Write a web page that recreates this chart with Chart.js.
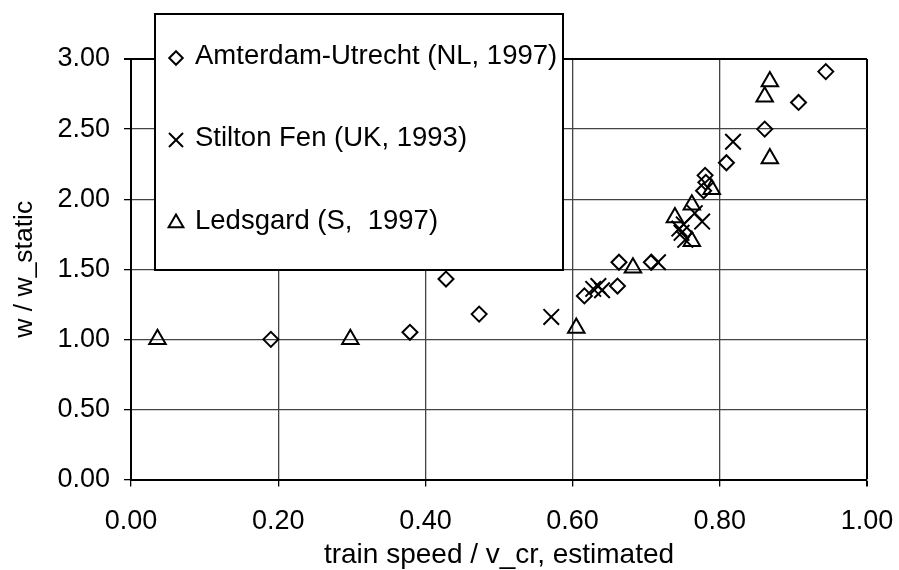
<!DOCTYPE html>
<html>
<head>
<meta charset="utf-8">
<script src="https://cdn.jsdelivr.net/npm/chart.js@4"></script>
<style>
  html, body { margin: 0; padding: 0; background: #fff; }
  #wrap { width: 899px; height: 570px; }
</style>
</head>
<body>
<div id="wrap"><canvas id="chart" width="899" height="570"></canvas></div>
<script>
// Amsterdam-Utrecht (diamonds)
const nlX = [0.19, 0.379, 0.428, 0.473, 0.616, 0.661, 0.663, 0.707, 0.780, 0.781, 0.778, 0.809, 0.861, 0.907, 0.944];
const nlY = [1.00, 1.05, 1.43, 1.18, 1.31, 1.38, 1.55, 1.55, 2.17, 2.12, 2.06, 2.26, 2.50, 2.69, 2.91];
// Stilton Fen (crosses)
const ukX = [0.571, 0.628, 0.635, 0.640, 0.716, 0.745, 0.748, 0.751, 0.753, 0.766, 0.776, 0.818];
const ukY = [1.16, 1.36, 1.38, 1.35, 1.55, 1.79, 1.76, 1.82, 1.71, 1.90, 1.84, 2.41];
// Ledsgard (triangles)
const seX = [0.036, 0.298, 0.605, 0.682, 0.739, 0.762, 0.762, 0.789, 0.861, 0.868, 0.868];
const seY = [1.00, 1.00, 1.08, 1.51, 1.87, 1.96, 1.70, 2.07, 2.73, 2.84, 2.29];

const seriesNames = ['Amterdam-Utrecht (NL, 1997)', 'Stilton Fen (UK, 1993)', 'Ledsgard (S,  1997)'];
const xTitle = 'train speed / v_cr, estimated';
const yTitle = 'w / w_static';

function pts(xs, ys) {
    return xs.map((x, i) => ({ x: x, y: ys[i] }));
}

const FONT = "'Liberation Sans', Arial, sans-serif";

// legend box drawn inside the plot, like the original
const boxLegend = {
    id: 'boxLegend',
    afterDraw(chart) {
        const ctx = chart.ctx;
        ctx.save();
        ctx.fillStyle = '#fff';
        ctx.fillRect(155, 14, 408, 256);
        ctx.strokeStyle = '#000';
        ctx.lineWidth = 2;
        ctx.strokeRect(155, 14, 408, 256);
        const rows = [56, 138, 221];
        chart.data.datasets.forEach((ds, i) => {
            ctx.strokeStyle = '#000';
            ctx.fillStyle = 'rgba(0,0,0,0)';
            Chart.helpers.drawPoint(ctx, {
                pointStyle: ds.pointStyle,
                radius: ds.pointRadius * 0.9,
                rotation: 0,
                borderWidth: 2
            }, 176, rows[i] + 2);
            ctx.fillStyle = '#000';
            ctx.font = '27.5px ' + FONT;
            ctx.textBaseline = 'middle';
            ctx.fillText(ds.label, 195, rows[i]);
        });
        ctx.restore();
    }
};

function edgeColor(max) {
    return (c) => (c.tick && Math.abs(c.tick.value - max) < 1e-9) ? '#000' : '#444';
}
function edgeWidth(max) {
    return (c) => (c.tick && Math.abs(c.tick.value - max) < 1e-9) ? 2 : 1.3;
}

const ctx = document.getElementById('chart').getContext('2d');
new Chart(ctx, {
    type: 'scatter',
    data: {
        datasets: [{
            label: seriesNames[0],
            data: pts(nlX, nlY),
            pointStyle: 'rectRot',
            pointRadius: 7.5,
            borderColor: '#000',
            backgroundColor: 'rgba(0,0,0,0)',
            pointBorderWidth: 2
        }, {
            label: seriesNames[1],
            data: pts(ukX, ukY),
            pointStyle: 'crossRot',
            pointRadius: 11,
            borderColor: '#000',
            backgroundColor: 'rgba(0,0,0,0)',
            pointBorderWidth: 2
        }, {
            label: seriesNames[2],
            data: pts(seX, seY),
            pointStyle: 'triangle',
            pointRadius: 9.5,
            borderColor: '#000',
            backgroundColor: 'rgba(0,0,0,0)',
            pointBorderWidth: 2
        }]
    },
    options: {
        responsive: false,
        animation: false,
        layout: { padding: { left: 0, top: 59, right: 32, bottom: 0 } },
        plugins: {
            legend: { display: false },
            tooltip: { enabled: false }
        },
        scales: {
            x: {
                type: 'linear',
                min: 0,
                max: 1,
                ticks: {
                    stepSize: 0.2,
                    color: '#000',
                    padding: 19,
                    maxRotation: 0,
                    font: { family: FONT, size: 27 },
                    callback: (v) => v.toFixed(2)
                },
                grid: {
                    color: edgeColor(1),
                    lineWidth: edgeWidth(1),
                    tickLength: 7,
                    tickColor: '#000'
                },
                border: { color: '#000', width: 2 },
                title: {
                    display: true,
                    text: xTitle,
                    color: '#000',
                    font: { family: FONT, size: 28, lineHeight: 1 },
                    padding: { top: 0, bottom: 1 }
                },
                afterFit: (s) => {
                    s.height = 90.5;
                    s.paddingLeft = 0;
                    s.paddingRight = 0;
                }
            },
            y: {
                type: 'linear',
                min: 0,
                max: 3,
                ticks: {
                    stepSize: 0.5,
                    color: '#000',
                    padding: 14,
                    font: { family: FONT, size: 27 },
                    callback: (v) => v.toFixed(2)
                },
                grid: {
                    color: edgeColor(3),
                    lineWidth: edgeWidth(3),
                    tickLength: 7,
                    tickColor: '#000'
                },
                border: { color: '#000', width: 2 },
                title: {
                    display: true,
                    text: yTitle,
                    color: '#000',
                    font: { family: FONT, size: 26.5, lineHeight: 1 },
                    padding: { top: 11, bottom: 0 }
                },
                afterFit: (s) => {
                    s.width = 131;
                    s.paddingTop = 0;
                    s.paddingBottom = 0;
                }
            }
        }
    },
    plugins: [boxLegend]
});
</script>
</body>
</html>
